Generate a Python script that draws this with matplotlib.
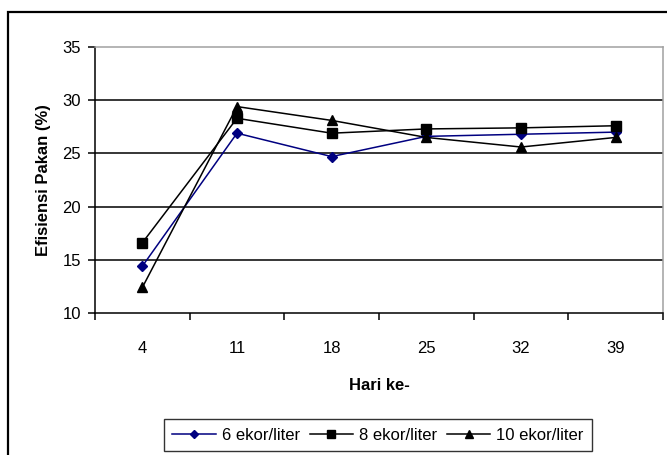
import matplotlib
matplotlib.use("Agg")
import matplotlib.pyplot as plt
from matplotlib.patches import Rectangle

plt.rcParams["font.family"] = ["Liberation Sans", "DejaVu Sans"]

# ── Data ──
hari = ["4", "11", "18", "25", "32", "39"]
ekor_6 = [14.4, 26.9, 24.7, 26.6, 26.8, 27.0]
ekor_8 = [16.6, 28.3, 26.9, 27.3, 27.4, 27.6]
ekor_10 = [12.4, 29.4, 28.1, 26.5, 25.6, 26.5]

W, H = 667, 455
fig = plt.figure(figsize=(W / 100, H / 100), dpi=100)
fig.patch.set_facecolor("white")

# outer chart border (runs off the right/bottom edge)
fig.patches.append(Rectangle((8 / W, 0 - 0.01), 1.0, 1 - 12 / H + 0.01,
                             transform=fig.transFigure, fill=False,
                             edgecolor="black", lw=1.6))

ax = fig.add_axes([95 / W, 1 - 313 / H, (663 - 95) / W, (313 - 47) / H])

x = list(range(len(hari)))
ax.plot(x, ekor_6, color="#000080", lw=1.1, marker="D", ms=5.5,
        label="6 ekor/liter")
ax.plot(x, ekor_8, color="black", lw=1.1, marker="s", ms=6.5,
        label="8 ekor/liter")
ax.plot(x, ekor_10, color="black", lw=1.1, marker="^", ms=7,
        label="10 ekor/liter")

ax.set_xlim(-0.5, len(hari) - 0.5)
ax.set_ylim(10, 35)
ax.set_yticks([10, 15, 20, 25, 30, 35])
for yv in [15, 20, 25, 30]:
    ax.axhline(yv, color="black", lw=1.1, zorder=0)

# category ticks sit on the boundaries, labels in the middle
ax.set_xticks([i - 0.5 for i in range(len(hari) + 1)])
ax.set_xticklabels([])
ax.set_xticks(x, minor=True)
ax.set_xticklabels(hari, minor=True)
ax.tick_params(axis="x", which="minor", length=0, pad=20, labelsize=12)
ax.tick_params(axis="x", which="major", length=5, width=1.1, direction="out")
ax.tick_params(axis="y", length=5, width=1.1, direction="out", labelsize=12, pad=5)

for s in ["left", "bottom"]:
    ax.spines[s].set_color("black")
    ax.spines[s].set_linewidth(1.1)
for s in ["top", "right"]:
    ax.spines[s].set_color("#a0a0a0")
    ax.spines[s].set_linewidth(1.1)

ax.set_xlabel("Hari ke-", fontsize=12, fontweight="bold", labelpad=16)
ax.set_ylabel("Efisiensi Pakan (%)", fontsize=12, fontweight="bold", labelpad=8)

leg = fig.legend(loc="center", bbox_to_anchor=(378 / W, 1 - 435 / H),
                 ncol=3, fontsize=12, frameon=True, fancybox=False,
                 handlelength=2.6, handletextpad=0.35, columnspacing=0.6,
                 borderpad=0.5, markerscale=0.8)
leg.get_frame().set_edgecolor("black")
leg.get_frame().set_linewidth(1.0)

fig.savefig("out.png", dpi=100)
